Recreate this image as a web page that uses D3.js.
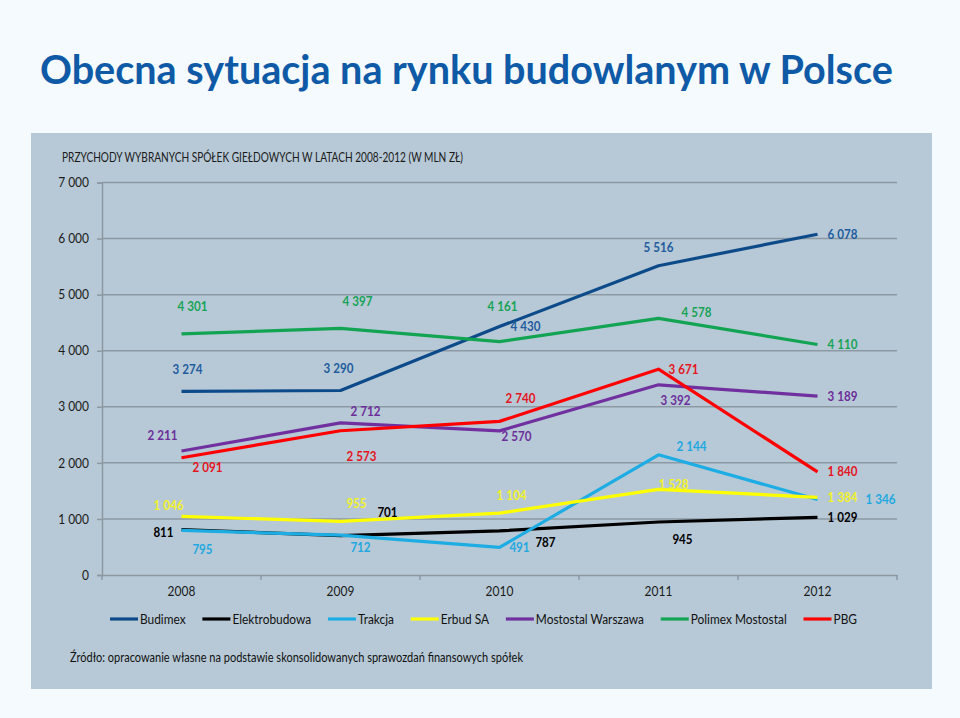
<!DOCTYPE html>
<html><head><meta charset="utf-8">
<script src="https://cdn.jsdelivr.net/npm/d3@7"></script>
<style>
html,body{margin:0;padding:0;background:#F4FAFD;}
svg{display:block;font-family:Lato,"Open Sans",sans-serif;}
</style></head>
<body><svg id="c" width="960" height="718"></svg>
<script>
// ---- data ----
const years = ["2008","2009","2010","2011","2012"];
const seriesNames = ["Budimex","Elektrobudowa","Trakcja","Erbud SA","Mostostal Warszawa","Polimex Mostostal","PBG"];
const budimex      = [3274, 3290, 4430, 5516, 6078];
const elektrobudowa= [811, 701, 787, 945, 1029];
const trakcja      = [795, 712, 491, 2144, 1346];
const erbud        = [1046, 955, 1104, 1528, 1384];
const mostostal    = [2211, 2712, 2570, 3392, 3189];
const polimex      = [4301, 4397, 4161, 4578, 4110];
const pbg          = [2091, 2573, 2740, 3671, 1840];
const yTicks = [0,1000,2000,3000,4000,5000,6000,7000];

// ---- style / placement (separate from data) ----
const lineColors  = ["#0C4A8A","#000000","#1DADE4","#FFFF00","#7030A0","#12A452","#FF0000"];
const labelColors = ["#1F5C9E","#000000","#22A8E0","#F2F22A","#6C2F9A","#17A356","#E5141E"];
const labelOffsets = [
  [[6,-22],[-2,-22],[26,0],[0,-18],[25,0]],
  [[-18,3],[47,-23],[46,12],[24,18],[25,0]],
  [[21,19],[20,13],[20,0],[33,-8],[63,0]],
  [[-13,-11],[16,-18],[12,-17],[15,-5],[25,0]],
  [[-19,-15],[25,-11],[17,6],[17,16],[25,0]],
  [[11,-27],[17,-27],[3,-35],[38,-6],[25,0]],
  [[26,10],[21,26],[21,-23],[25,0],[25,0]]
];
const seriesData = [budimex, elektrobudowa, trakcja, erbud, mostostal, polimex, pbg];

const svg = d3.select("#c");
const fmt = v => d3.format(",")(v).replace(/,/g, " ");

function fitWidth(sel, w){
  const cur = sel.node().getComputedTextLength();
  const fs = parseFloat(sel.attr("font-size"));
  sel.attr("font-size", fs * w / cur);
}
function squeeze(sel, factor){
  sel.each(function(){
    const n = this.getComputedTextLength();
    d3.select(this).attr("textLength", n*factor).attr("lengthAdjust","spacingAndGlyphs");
  });
}

// title
const title = svg.append("text").attr("x",40).attr("y",84)
  .attr("font-size",36).attr("font-weight","bold").attr("fill","#0F5AA6")
  .text("Obecna sytuacja na rynku budowlanym w Polsce");
fitWidth(title, 853);

// chart box
svg.append("rect").attr("x",31).attr("y",133).attr("width",901).attr("height",556)
  .attr("fill","#B7C9D6");

// subtitle
svg.append("text").attr("x",62).attr("y",162).attr("font-size",13).attr("fill","#1a1a1a")
  .attr("textLength",401).attr("lengthAdjust","spacingAndGlyphs")
  .text("PRZYCHODY WYBRANYCH SPÓŁEK GIEŁDOWYCH W LATACH 2008-2012 (W MLN ZŁ)");

// scales
const x = d3.scaleBand().domain(years).range([102,897]);
const y = d3.scaleLinear().domain([0,7000]).range([575,182.5]);
const px = d => x(d) + x.bandwidth()/2;

const gridColor = "#8C99A3";
// gridlines
svg.append("g").selectAll("line").data(yTicks.filter(t=>t>0)).join("line")
  .attr("x1",102).attr("x2",897).attr("y1",d=>y(d)).attr("y2",d=>y(d))
  .attr("stroke",gridColor).attr("stroke-width",1.5);

// y axis
const yAxis = svg.append("g").attr("transform","translate(102,0)")
  .call(d3.axisLeft(y).tickValues(yTicks).tickFormat(fmt).tickSize(5).tickPadding(8));
yAxis.select(".domain").attr("stroke",gridColor).attr("stroke-width",1.5);
yAxis.selectAll(".tick line").attr("stroke",gridColor).attr("stroke-width",1.5);
yAxis.selectAll("text").attr("font-size",13).attr("fill","#1a1a1a").attr("font-family","Lato,sans-serif");
squeeze(yAxis.selectAll("text"), 0.92);

// x axis
const xAxis = svg.append("g").attr("transform","translate(0,575)")
  .call(d3.axisBottom(x).tickSize(0).tickPadding(12));
xAxis.select(".domain").attr("stroke",gridColor).attr("stroke-width",1.5);
xAxis.selectAll("text").attr("font-size",13).attr("fill","#1a1a1a").attr("font-family","Lato,sans-serif");
squeeze(xAxis.selectAll("text"), 0.92);
// category boundary ticks
svg.append("g").selectAll("line").data(d3.range(years.length+1)).join("line")
  .attr("x1",i=>102+i*x.bandwidth()).attr("x2",i=>102+i*x.bandwidth())
  .attr("y1",575).attr("y2",580).attr("stroke",gridColor).attr("stroke-width",1.5);

// lines
const line = d3.line().x((d,i)=>px(years[i])).y(d=>y(d));
svg.append("g").selectAll("path").data(seriesData).join("path")
  .attr("d",d=>line(d)).attr("fill","none")
  .attr("stroke",(d,i)=>lineColors[i]).attr("stroke-width",3.2)
  .attr("stroke-linejoin","round");

// labels
seriesData.forEach((s,si)=>{
  const t = svg.append("g").selectAll("text").data(s).join("text")
    .attr("x",(d,i)=>px(years[i]) + labelOffsets[si][i][0])
    .attr("y",(d,i)=>y(d) + labelOffsets[si][i][1])
    .attr("dy","0.35em").attr("text-anchor","middle")
    .attr("font-size",12.5).attr("font-weight","bold")
    .attr("fill",labelColors[si]).text(fmt);
  squeeze(t, 0.93);
});

// legend
const lg = svg.append("g");
const items = lg.selectAll("g").data(seriesNames).join("g");
items.append("line").attr("x1",0).attr("x2",28).attr("y1",0).attr("y2",0)
  .attr("stroke",(d,i)=>lineColors[i]).attr("stroke-width",3.2);
const ltexts = items.append("text").attr("x",30).attr("dy","0.35em").attr("font-size",13.5)
  .attr("fill","#111").text(d=>d);
squeeze(ltexts, 0.88);
const widths = [];
items.each(function(){ widths.push(30 + +d3.select(this).select("text").attr("textLength")); });
const totalW = 747;
const gap = (totalW - d3.sum(widths)) / (widths.length - 1);
let cx = 110;
items.each(function(d,i){ d3.select(this).attr("transform",`translate(${cx},619)`); cx += widths[i] + gap; });

// source
svg.append("text").attr("x",70).attr("y",657).attr("dy","0.35em").attr("font-size",13.5)
  .attr("fill","#111").attr("textLength",453).attr("lengthAdjust","spacingAndGlyphs")
  .text("Źródło: opracowanie własne na podstawie skonsolidowanych sprawozdań finansowych spółek");
</script></body></html>
